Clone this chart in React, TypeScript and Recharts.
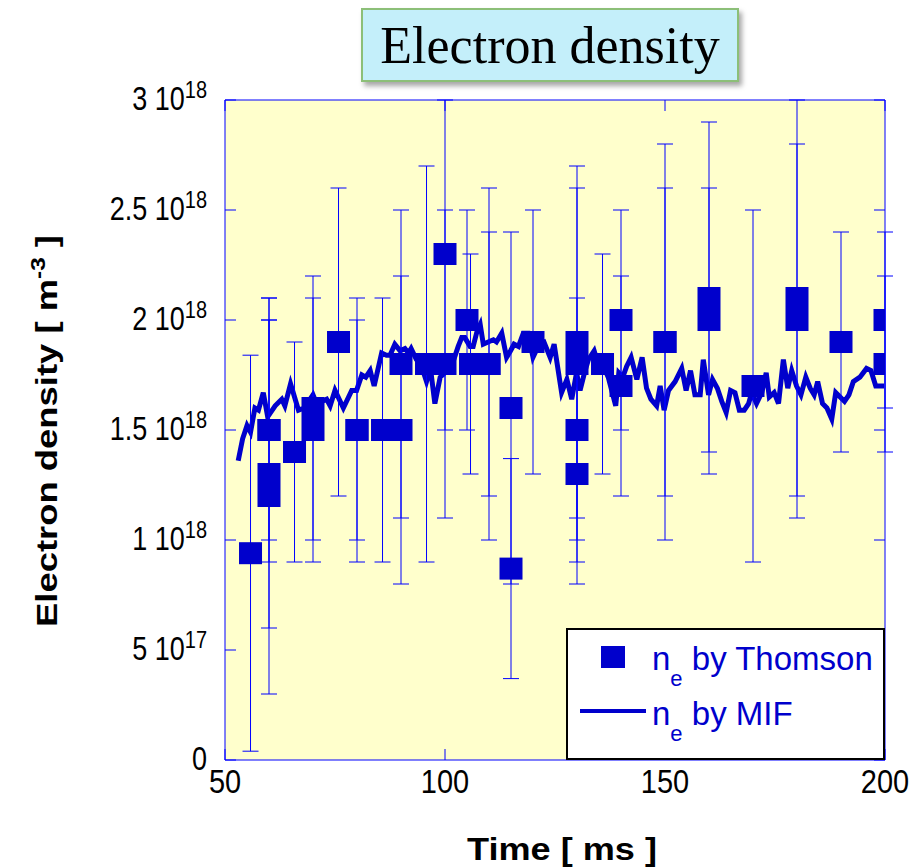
import React from 'react';
import { ComposedChart, Line, Scatter, ErrorBar, XAxis, YAxis, ReferenceLine } from 'recharts';

// MIF density trace, time in ms, density in 1e18 m^-3
const mifTime = [
  53, 54, 55, 55.8, 56.8, 57.6, 58.7, 59.7, 61.4, 62.9,
  63.6, 64.9, 66.7, 68, 69, 70, 71, 72, 73.1, 73.9,
  75, 76.9, 78.8, 79.9, 81.1, 82, 83, 83.9, 85.6, 86.7,
  87.5, 88.6, 89.8, 90.9, 91.7, 92.3, 93.5, 94.5, 95.8, 96.7,
  97.7, 98.9, 100, 101, 102, 103, 103.8, 104.5, 105.7, 106.4,
  107.3, 108, 108.7, 109.8, 111, 111.7, 112.9, 114, 114.9, 115.7,
  116.7, 117.8, 118.9, 120, 121.4, 122.5, 123.9, 124.8, 126.5, 127.7,
  128.8, 129.9, 130.7, 131.7, 132.6, 133.9, 134.8, 136, 137.1, 138.8,
  139.5, 140.4, 141.3, 142.3, 143.6, 144.8, 145.8, 146.8, 148.1, 148.9,
  149.8, 150.8, 152.3, 153.8, 154.8, 155.8, 156.8, 158, 158.7, 159.9,
  160.8, 161.9, 162.9, 163.9, 164.9, 165.9, 166.9, 168, 169, 169.7,
  170.8, 172, 173, 173.7, 174.8, 175.8, 176.9, 177.9, 178.8, 179.9,
  180.9, 182, 183, 183.9, 184.7, 185.8, 186.8, 187.9, 188.8, 189.8,
  190.8, 191.8, 192.8, 194.3, 195.8, 196.8, 197.9, 198.9, 199.8,
];
const mifDensity = [
  1.36, 1.46, 1.52, 1.49, 1.6, 1.59, 1.67, 1.56, 1.61, 1.64,
  1.61, 1.71, 1.59, 1.6, 1.63, 1.66, 1.61, 1.63, 1.64, 1.61,
  1.68, 1.6, 1.68, 1.68, 1.75, 1.74, 1.77, 1.7, 1.85, 1.84,
  1.84, 1.89, 1.86, 1.87, 1.85, 1.87, 1.82, 1.8, 1.72, 1.78,
  1.62, 1.74, 1.76, 1.8, 1.82, 1.88, 1.92, 1.92, 1.88, 1.88,
  1.95, 1.98, 1.89, 1.9, 1.91, 1.9, 1.94, 1.83, 1.86, 1.89,
  1.88, 1.94, 1.94, 1.83, 1.89, 1.9, 1.83, 1.89, 1.67, 1.73,
  1.64, 1.76, 1.68, 1.76, 1.82, 1.86, 1.8, 1.79, 1.74, 1.61,
  1.76, 1.74, 1.79, 1.83, 1.73, 1.83, 1.69, 1.64, 1.61, 1.7,
  1.59, 1.68, 1.72, 1.78, 1.68, 1.77, 1.66, 1.66, 1.82, 1.66,
  1.73, 1.69, 1.63, 1.58, 1.68, 1.67, 1.59, 1.59, 1.62, 1.67,
  1.62, 1.67, 1.76, 1.65, 1.67, 1.62, 1.82, 1.69, 1.77, 1.7,
  1.66, 1.74, 1.69, 1.66, 1.72, 1.62, 1.6, 1.55, 1.67, 1.65,
  1.63, 1.66, 1.72, 1.74, 1.78, 1.77, 1.7, 1.7, 1.7,
];

// Thomson points with error bar ends (upper ends cut at the frame where they run off the plot)
const thomsonTime = [
  55.8, 60, 60, 60, 60, 65.8, 70, 70, 75.8, 80, 80, 85.8, 90, 90, 95.8, 100, 100, 105, 105.8, 110, 110,
  115, 115, 120, 130, 130, 130, 130, 135.8, 140, 140, 150, 150, 160, 160, 170, 180, 180, 190, 200, 200,
];
const thomsonDensity = [
  0.94, 1.5, 1.5, 1.3, 1.2, 1.4, 1.6, 1.5, 1.9, 1.5, 1.5, 1.5, 1.8, 1.5, 1.8, 2.3, 1.8, 2.0, 1.8, 1.8, 1.8,
  1.6, 0.87, 1.9, 1.9, 1.8, 1.5, 1.3, 1.8, 2.0, 1.7, 1.9, 1.9, 2.1, 2.0, 1.7, 2.1, 2.0, 1.9, 2.0, 1.8,
];
const thomsonLow = [
  0.04, 0.9, 1.0, 0.6, 0.3, 0.9, 1.0, 0.9, 1.2, 0.9, 1.0, 0.9, 1.1, 0.8, 0.9, 1.5, 1.1, 1.5, 1.3, 1.0, 1.2,
  0.8, 0.37, 1.3, 1.1, 1.0, 0.9, 0.8, 1.3, 1.5, 1.2, 1.0, 1.2, 1.3, 1.4, 0.9, 1.1, 1.2, 1.4, 1.6, 1.4,
];
const thomsonHigh = [
  1.84, 2.1, 2.0, 2.0, 2.1, 1.9, 2.2, 2.1, 2.6, 2.1, 2.0, 2.1, 2.5, 2.2, 2.7, 3.0, 2.5, 2.5, 2.3, 2.6, 2.4,
  2.4, 1.37, 2.5, 2.7, 2.6, 2.1, 1.8, 2.3, 2.5, 2.2, 2.8, 2.6, 2.9, 2.6, 2.5, 3.0, 2.8, 2.4, 2.4, 2.2,
];

const xTicks = [50, 100, 150, 200];
const yTicks = [0, 0.5, 1, 1.5, 2, 2.5, 3];
const yTickMantissa = ['0', '5', '1', '1.5', '2', '2.5', '3'];
const yTickExponent = ['', '17', '18', '18', '18', '18', '18'];

const X_MIN = 50;
const X_MAX = 200;
const Y_MIN = 0;
const Y_MAX = 3;
// inward tick length expressed in data units (about 11px on this plot)
const X_TICK_LEN = 2.5;
const Y_TICK_LEN = 0.05;

const mifData = mifTime.map((t, i) => ({ t, v: mifDensity[i] }));
const thomsonData = thomsonTime.map((t, i) => ({
  t,
  v: thomsonDensity[i],
  err: [thomsonDensity[i] - thomsonLow[i], thomsonHigh[i] - thomsonDensity[i]],
}));

const BLUE = '#0000CC';
const AXIS = '#0000FF';
const SANS = '"Liberation Sans", Arial, sans-serif';

const SquareDot = (props: any) => {
  const { cx, cy } = props;
  if (cx == null || cy == null) return null;
  return <rect x={cx - 11.5} y={cy - 11} width={23} height={22} fill={BLUE} />;
};

const YTick = (props: any) => {
  const { x, y, payload } = props;
  const i = yTicks.indexOf(payload.value);
  const exp = yTickExponent[i];
  return (
    <g transform={`translate(${x}, ${y + 10}) scale(1, 1.2)`}>
      <text x={0} y={0} textAnchor="end" fontFamily={SANS} fontSize={27} fill="#000">
        {exp ? `${yTickMantissa[i]} 10` : yTickMantissa[i]}
        {exp && (
          <tspan dy={-10} fontSize={20}>
            {exp}
          </tspan>
        )}
      </text>
    </g>
  );
};

const XTick = (props: any) => {
  const { x, y, payload } = props;
  return (
    <g transform={`translate(${x}, ${y + 33}) scale(1, 1.15)`}>
      <text x={0} y={0} textAnchor="middle" fontFamily={SANS} fontSize={29} fill="#000">
        {payload.value}
      </text>
    </g>
  );
};

const XTitle = (props: any) => {
  const { viewBox } = props;
  const cx = viewBox.x + viewBox.width / 2 + 7;
  return (
    <text
      x={cx - 95}
      y={860}
      textLength={190}
      lengthAdjust="spacingAndGlyphs"
      fontFamily={SANS}
      fontWeight="bold"
      fontSize={31}
      fill="#000"
    >
      Time [ ms ]
    </text>
  );
};

const YTitle = (props: any) => {
  const { viewBox } = props;
  const cy = viewBox.y + viewBox.height / 2 + 1;
  return (
    <g transform={`translate(57, ${cy}) rotate(-90)`}>
      <text
        x={-196}
        y={0}
        textLength={392}
        lengthAdjust="spacingAndGlyphs"
        fontFamily={SANS}
        fontWeight="bold"
        fontSize={30}
        fill="#000"
      >
        Electron density [ m
        <tspan dy={-12} fontSize={20}>-3</tspan>
        <tspan dy={12}> ]</tspan>
      </text>
    </g>
  );
};

const LegendBox = () => (
  <div
    style={{
      position: 'absolute',
      left: 566,
      top: 628,
      width: 319,
      height: 132,
      boxSizing: 'border-box',
      border: '2.5px solid #000',
      background: '#fff',
    }}
  >
    <svg width={314} height={127} style={{ display: 'block' }}>
      <rect x={33} y={16} width={24} height={22} fill={BLUE} />
      <text x={84} y={40} fontFamily={SANS} fontSize={33} fill={BLUE}>
        n<tspan dy={16} fontSize={22}>e</tspan>
        <tspan dy={-16}> by Thomson</tspan>
      </text>
      <line x1={12} x2={78} y1={81} y2={81} stroke={BLUE} strokeWidth={4} />
      <text x={84} y={95} fontFamily={SANS} fontSize={33} fill={BLUE}>
        n<tspan dy={16} fontSize={22}>e</tspan>
        <tspan dy={-16}> by MIF</tspan>
      </text>
    </svg>
  </div>
);

export default function App() {
  return (
    <div style={{ position: 'absolute', left: 0, top: 0, width: 924, height: 867, background: '#fff' }}>
      {/* plot background sits under the svg */}
      <div style={{ position: 'absolute', left: 225, top: 100, width: 660, height: 660, background: '#FFFFCC' }} />
      <ComposedChart width={924} height={867} margin={{ top: 100, right: 39, bottom: 47, left: 105 }}>
        <XAxis
          dataKey="t"
          type="number"
          domain={[X_MIN, X_MAX]}
          ticks={xTicks}
          interval={0}
          allowDataOverflow
          height={60}
          tickSize={0}
          tickMargin={0}
          tickLine={false}
          stroke={AXIS}
          tick={<XTick />}
          label={<XTitle />}
        />
        <YAxis
          type="number"
          domain={[Y_MIN, Y_MAX]}
          ticks={yTicks}
          interval={0}
          allowDataOverflow
          width={120}
          tickSize={0}
          tickMargin={18}
          tickLine={false}
          stroke={AXIS}
          tick={<YTick />}
          label={<YTitle />}
        />
        {/* frame: top and right edges */}
        <ReferenceLine y={Y_MAX} stroke={AXIS} strokeWidth={1} ifOverflow="visible" />
        <ReferenceLine x={X_MAX} stroke={AXIS} strokeWidth={1} ifOverflow="visible" />
        {/* inward tick marks on all four sides */}
        {yTicks.map((v) => (
          <ReferenceLine
            key={`yl${v}`}
            segment={[{ x: X_MIN, y: v }, { x: X_MIN + X_TICK_LEN, y: v }]}
            stroke={AXIS}
            strokeWidth={1}
            ifOverflow="visible"
          />
        ))}
        {yTicks.map((v) => (
          <ReferenceLine
            key={`yr${v}`}
            segment={[{ x: X_MAX - X_TICK_LEN, y: v }, { x: X_MAX, y: v }]}
            stroke={AXIS}
            strokeWidth={1}
            ifOverflow="visible"
          />
        ))}
        {xTicks.map((t) => (
          <ReferenceLine
            key={`xb${t}`}
            segment={[{ x: t, y: Y_MIN }, { x: t, y: Y_MIN + Y_TICK_LEN }]}
            stroke={AXIS}
            strokeWidth={1}
            ifOverflow="visible"
          />
        ))}
        {xTicks.map((t) => (
          <ReferenceLine
            key={`xt${t}`}
            segment={[{ x: t, y: Y_MAX - Y_TICK_LEN }, { x: t, y: Y_MAX }]}
            stroke={AXIS}
            strokeWidth={1}
            ifOverflow="visible"
          />
        ))}
        <Line
          data={mifData}
          dataKey="v"
          type="linear"
          stroke={BLUE}
          strokeWidth={5}
          strokeLinejoin="miter"
          dot={false}
          activeDot={false}
          isAnimationActive={false}
        />
        <Scatter data={thomsonData} dataKey="v" shape={<SquareDot />} isAnimationActive={false}>
          <ErrorBar dataKey="err" direction="y" width={8} stroke={AXIS} strokeWidth={1} isAnimationActive={false} />
        </Scatter>
      </ComposedChart>
      <LegendBox />
      <div
        style={{
          position: 'absolute',
          left: 361,
          top: 8,
          width: 378,
          height: 74,
          boxSizing: 'border-box',
          border: '2px solid #8CBF78',
          background: '#C4EFFA',
          boxShadow: '3px 4px 5px rgba(0,0,0,0.35)',
          display: 'flex',
          alignItems: 'center',
          justifyContent: 'center',
          fontFamily: '"Liberation Serif", serif',
          fontSize: 52,
          color: '#000',
        }}
      >
        Electron density
      </div>
    </div>
  );
}
